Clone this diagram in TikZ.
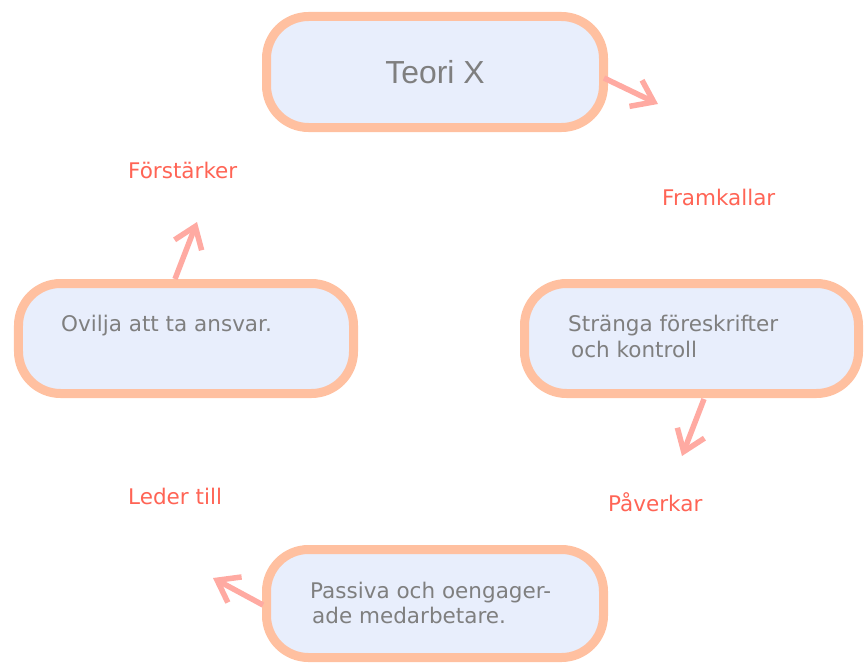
\documentclass[tikz,border=0pt]{standalone}
\usepackage{fontspec}
\setmainfont{DejaVu Sans}
\newfontfamily\arialfont{Liberation Sans}
\usetikzlibrary{arrows.meta}
\definecolor{boxborder}{HTML}{FFC0A0}
\definecolor{boxfill}{HTML}{E8EEFC}
\definecolor{arrowcol}{HTML}{FFAAA2}
\definecolor{labelcol}{HTML}{FF6455}
\definecolor{textgray}{HTML}{7F7F7F}
\tikzset{
  roundbox/.style={draw=boxborder, fill=boxfill, line width=9bp, rounded corners=42bp,
    minimum width=337bp, minimum height=111bp, inner sep=0pt},
  boxtext/.style={anchor=base west, inner sep=0pt, text=textgray, font=\fontsize{21.6}{26}\selectfont},
  lbl/.style={anchor=base west, inner sep=0pt, text=labelcol, font=\fontsize{21.6}{26}\selectfont},
  conn/.style={draw=arrowcol, line width=5.5bp, -{Straight Barb[length=20bp, width=29bp, line width=5.5bp]}},
}
\begin{document}
\begin{tikzpicture}[x=1bp, y=-1bp]
\useasboundingbox (0,0) rectangle (864,663);
% boxes
\node[roundbox] (teori) at (435,72) {};
\node[roundbox, minimum width=335bp, minimum height=110bp] (ovilja) at (186,338.5) {};
\node[roundbox, minimum width=334bp, minimum height=110bp] (stranga) at (691.5,338.5) {};
\node[roundbox, minimum height=108bp] (passiva) at (435,603.5) {};
% texts
\node[inner sep=0pt, text=textgray, font=\arialfont\fontsize{32}{36}\selectfont] (teoriT) at (435,72) {Teori X};
\node[boxtext] (ovT) at (61,331) {Ovilja att ta ansvar.};
\node[boxtext] (stT1) at (568,331) {Stränga föreskrifter};
\node[boxtext] (stT2) at (571,357.5) {och kontroll};
\node[boxtext] (paT1) at (310,598) {Passiva och oengager-};
\node[boxtext] (paT2) at (312,623) {ade medarbetare.};
% labels
\node[lbl] (l1) at (128,178) {Förstärker};
\node[lbl] (l2) at (662,205) {Framkallar};
\node[lbl] (l3) at (608,511) {Påverkar};
\node[lbl] (l4) at (128,504) {Leder till};
% connector coordinates
\coordinate (a1s) at (604,78);
\coordinate (a1e) at (658,104);
\coordinate (a2s) at (175,279);
\coordinate (a2e) at (197,222);
\coordinate (a3s) at (704,399);
\coordinate (a3e) at (682,456);
\coordinate (a4s) at (263,605);
\coordinate (a4e) at (213,578);
\draw[conn] (a1s) -- (a1e);
\draw[conn] (a2s) -- (a2e);
\draw[conn] (a3s) -- (a3e);
\draw[conn] (a4s) -- (a4e);
\end{tikzpicture}
\end{document}
